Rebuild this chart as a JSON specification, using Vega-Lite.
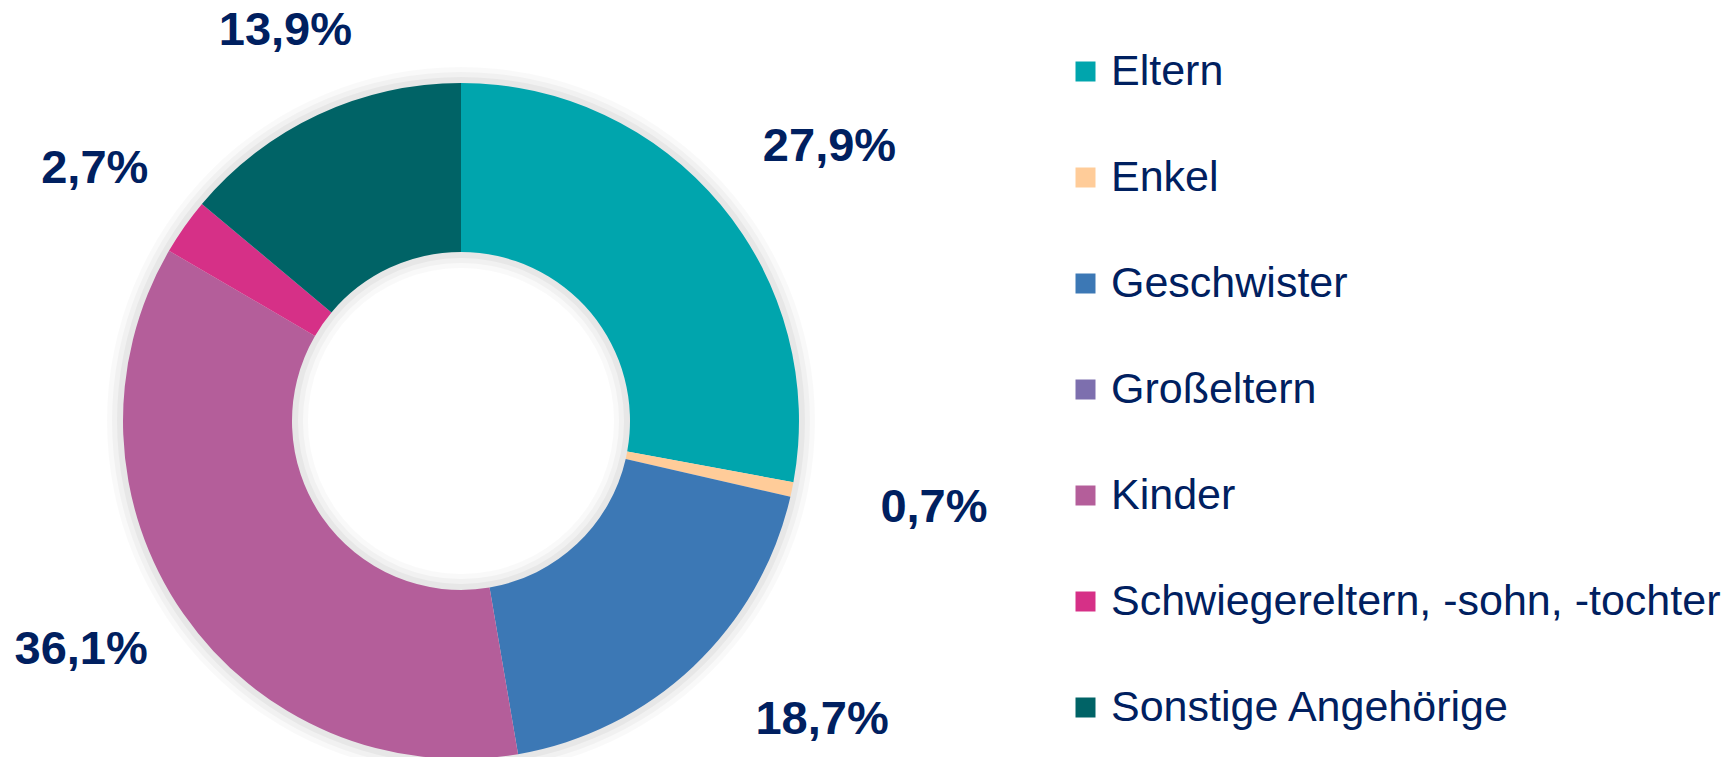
{
  "$schema": "https://vega.github.io/schema/vega-lite/v6.json",
  "width": 922,
  "height": 842,
  "autosize": "none",
  "padding": {"left": 0, "top": 0, "right": 804, "bottom": 0},
  "background": "white",
  "config": {"view": {"stroke": null}},
  "layer": [
    {
      "data": {"values": [{"ring": "shadow"}]},
      "mark": {"type": "arc", "theta": 0, "theta2": 6.2832, "radius": 354, "radius2": 153, "color": "#000000", "opacity": 0.025},
      "encoding": {}
    },
    {
      "data": {"values": [{"ring": "shadow"}]},
      "mark": {"type": "arc", "theta": 0, "theta2": 6.2832, "radius": 349, "radius2": 158, "color": "#000000", "opacity": 0.03},
      "encoding": {}
    },
    {
      "data": {"values": [{"ring": "shadow"}]},
      "mark": {"type": "arc", "theta": 0, "theta2": 6.2832, "radius": 344, "radius2": 163, "color": "#000000", "opacity": 0.04},
      "encoding": {}
    },
    {
      "data": {"name": "main"},
      "mark": {"type": "arc", "radius": 338, "radius2": 169, "strokeWidth": 0},
      "encoding": {
        "theta": {"field": "value", "type": "quantitative", "stack": true},
        "order": {"field": "idx", "type": "quantitative"},
        "color": {
          "field": "category",
          "type": "nominal",
          "sort": ["Eltern", "Enkel", "Geschwister", "Großeltern", "Kinder", "Schwiegereltern, -sohn, -tochter", "Sonstige Angehörige"],
          "scale": {
            "domain": ["Eltern", "Enkel", "Geschwister", "Großeltern", "Kinder", "Schwiegereltern, -sohn, -tochter", "Sonstige Angehörige"],
            "range": ["#00A5AD", "#FFCC99", "#3C78B5", "#7D6FAE", "#B45E9A", "#D63087", "#006366"]
          },
          "legend": {
            "title": null,
            "orient": "none",
            "legendX": 1064,
            "legendY": 50,
            "padding": 0,
            "symbolType": "square",
            "symbolSize": 400,
            "symbolStrokeWidth": 0,
            "labelFont": "Liberation Sans",
            "labelFontSize": 43,
            "labelColor": "#002060",
            "labelOffset": 4,
            "labelLimit": 700,
            "rowPadding": 62
          }
        }
      }
    },
    {
      "data": {"name": "main"},
      "mark": {"type": "text", "radius": 460, "dx": 15, "dy": 20, "font": "Liberation Sans", "fontWeight": "bold", "fontSize": 47, "color": "#002060", "baseline": "middle", "align": "center"},
      "encoding": {
        "theta": {"field": "value", "type": "quantitative", "stack": true},
        "order": {"field": "idx", "type": "quantitative"},
        "detail": {"field": "category", "type": "nominal"},
        "text": {"condition": {"test": "datum.category === 'Eltern'", "field": "label"}, "value": ""}
      }
    },
    {
      "data": {"name": "main"},
      "mark": {"type": "text", "radius": 483, "dx": 0, "dy": -11, "font": "Liberation Sans", "fontWeight": "bold", "fontSize": 47, "color": "#002060", "baseline": "middle", "align": "center"},
      "encoding": {
        "theta": {"field": "value", "type": "quantitative", "stack": true},
        "order": {"field": "idx", "type": "quantitative"},
        "detail": {"field": "category", "type": "nominal"},
        "text": {"condition": {"test": "datum.category === 'Enkel'", "field": "label"}, "value": ""}
      }
    },
    {
      "data": {"name": "main"},
      "mark": {"type": "text", "radius": 469, "dx": 39, "dy": -42, "font": "Liberation Sans", "fontWeight": "bold", "fontSize": 47, "color": "#002060", "baseline": "middle", "align": "center"},
      "encoding": {
        "theta": {"field": "value", "type": "quantitative", "stack": true},
        "order": {"field": "idx", "type": "quantitative"},
        "detail": {"field": "category", "type": "nominal"},
        "text": {"condition": {"test": "datum.category === 'Geschwister'", "field": "label"}, "value": ""}
      }
    },
    {
      "data": {"name": "main"},
      "mark": {"type": "text", "radius": 444, "dx": -15, "dy": -24, "font": "Liberation Sans", "fontWeight": "bold", "fontSize": 47, "color": "#002060", "baseline": "middle", "align": "center"},
      "encoding": {
        "theta": {"field": "value", "type": "quantitative", "stack": true},
        "order": {"field": "idx", "type": "quantitative"},
        "detail": {"field": "category", "type": "nominal"},
        "text": {"condition": {"test": "datum.category === 'Kinder'", "field": "label"}, "value": ""}
      }
    },
    {
      "data": {"name": "main"},
      "mark": {"type": "text", "radius": 444, "dx": -3, "dy": 3, "font": "Liberation Sans", "fontWeight": "bold", "fontSize": 47, "color": "#002060", "baseline": "middle", "align": "center"},
      "encoding": {
        "theta": {"field": "value", "type": "quantitative", "stack": true},
        "order": {"field": "idx", "type": "quantitative"},
        "detail": {"field": "category", "type": "nominal"},
        "text": {"condition": {"test": "datum.category === 'Schwiegereltern, -sohn, -tochter'", "field": "label"}, "value": ""}
      }
    },
    {
      "data": {"name": "main"},
      "mark": {"type": "text", "radius": 427, "dx": 5, "dy": -3, "font": "Liberation Sans", "fontWeight": "bold", "fontSize": 47, "color": "#002060", "baseline": "middle", "align": "center"},
      "encoding": {
        "theta": {"field": "value", "type": "quantitative", "stack": true},
        "order": {"field": "idx", "type": "quantitative"},
        "detail": {"field": "category", "type": "nominal"},
        "text": {"condition": {"test": "datum.category === 'Sonstige Angehörige'", "field": "label"}, "value": ""}
      }
    }
  ],
  "datasets": {
    "main": [
      {"idx": 1, "category": "Eltern", "value": 27.9, "label": "27,9%"},
      {"idx": 2, "category": "Enkel", "value": 0.7, "label": "0,7%"},
      {"idx": 3, "category": "Geschwister", "value": 18.7, "label": "18,7%"},
      {"idx": 4, "category": "Großeltern", "value": 0, "label": ""},
      {"idx": 5, "category": "Kinder", "value": 36.1, "label": "36,1%"},
      {"idx": 6, "category": "Schwiegereltern, -sohn, -tochter", "value": 2.7, "label": "2,7%"},
      {"idx": 7, "category": "Sonstige Angehörige", "value": 13.9, "label": "13,9%"}
    ]
  }
}
